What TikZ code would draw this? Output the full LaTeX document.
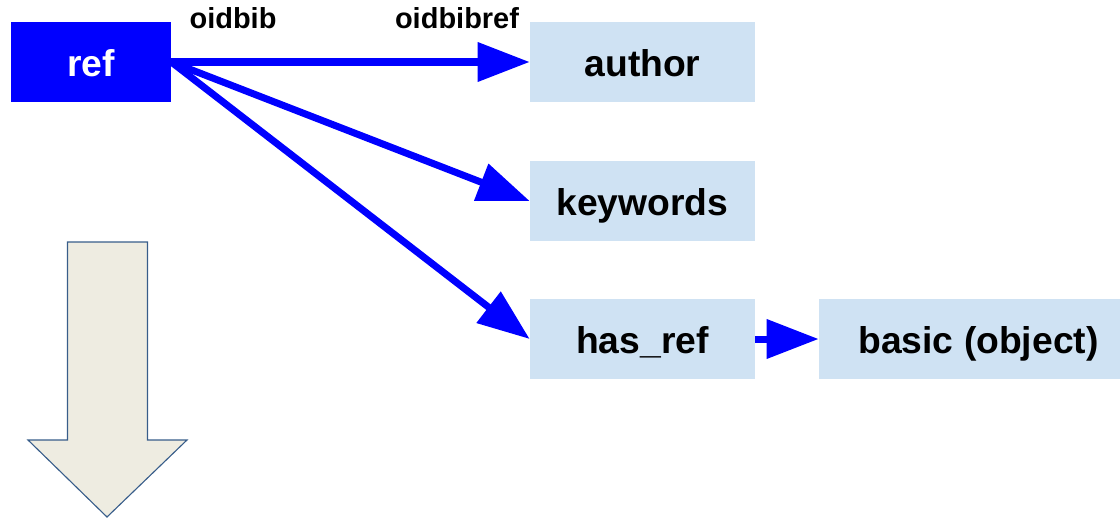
\documentclass[tikz,border=0pt]{standalone}
\usepackage{fontspec}
\setmainfont{Liberation Sans}
\usetikzlibrary{arrows.meta}
\definecolor{refblue}{HTML}{0000FF}
\definecolor{attrblue}{HTML}{CFE2F3}
\definecolor{downfill}{HTML}{EEECE1}
\definecolor{downline}{HTML}{385D8A}
\begin{document}
\begin{tikzpicture}[x=0.025cm, y=-0.025cm,
    main_node/.style={fill=refblue, text=white, minimum width=4cm, minimum height=2cm, inner sep=0pt,
        font=\fontsize{26.5}{30}\selectfont\bfseries, text height=20pt, text depth=0pt},
    attr_node/.style={main_node, fill=attrblue, text=black, minimum width=5.625cm},
    link_label/.style={anchor=base, inner sep=0pt, font=\fontsize{20.6}{24}\selectfont\bfseries},
    link/.style={draw=refblue, line width=0.175cm, -{Triangle[length=1.3cm, width=0.95cm]}}]
    \useasboundingbox (0,0) rectangle (1120,519);
    \node[main_node] (ref) at (91, 62) {ref};
    \node[attr_node] (author) at (642.5, 62) {author};
    \node[attr_node] (keywords) at (642.5, 201) {keywords};
    \node[attr_node] (has_ref) at (642.5, 339) {has\_ref};
    \node[attr_node, minimum width=7.975cm] (basic) at (978.5, 339) {basic (object)};
    \node[link_label] (oidbib) at (233, 29) {oidbib};
    \node[link_label] (oidbibref) at (457, 29) {oidbibref};
    \draw[link] (ref.east) -- (author.west);
    \draw[link] (ref.east) -- (keywords.west);
    \draw[link] (ref.east) -- (has_ref.west);
    \draw[link] (has_ref.east) -- (basic.west);
    \draw[fill=downfill, draw=downline, line width=0.8pt, line join=miter]
        (67.5, 242) -- (147.5, 242) -- (147.5, 440) -- (187, 440) -- (107, 517)
        -- (28, 440) -- (67.5, 440) -- cycle;
\end{tikzpicture}
\end{document}
